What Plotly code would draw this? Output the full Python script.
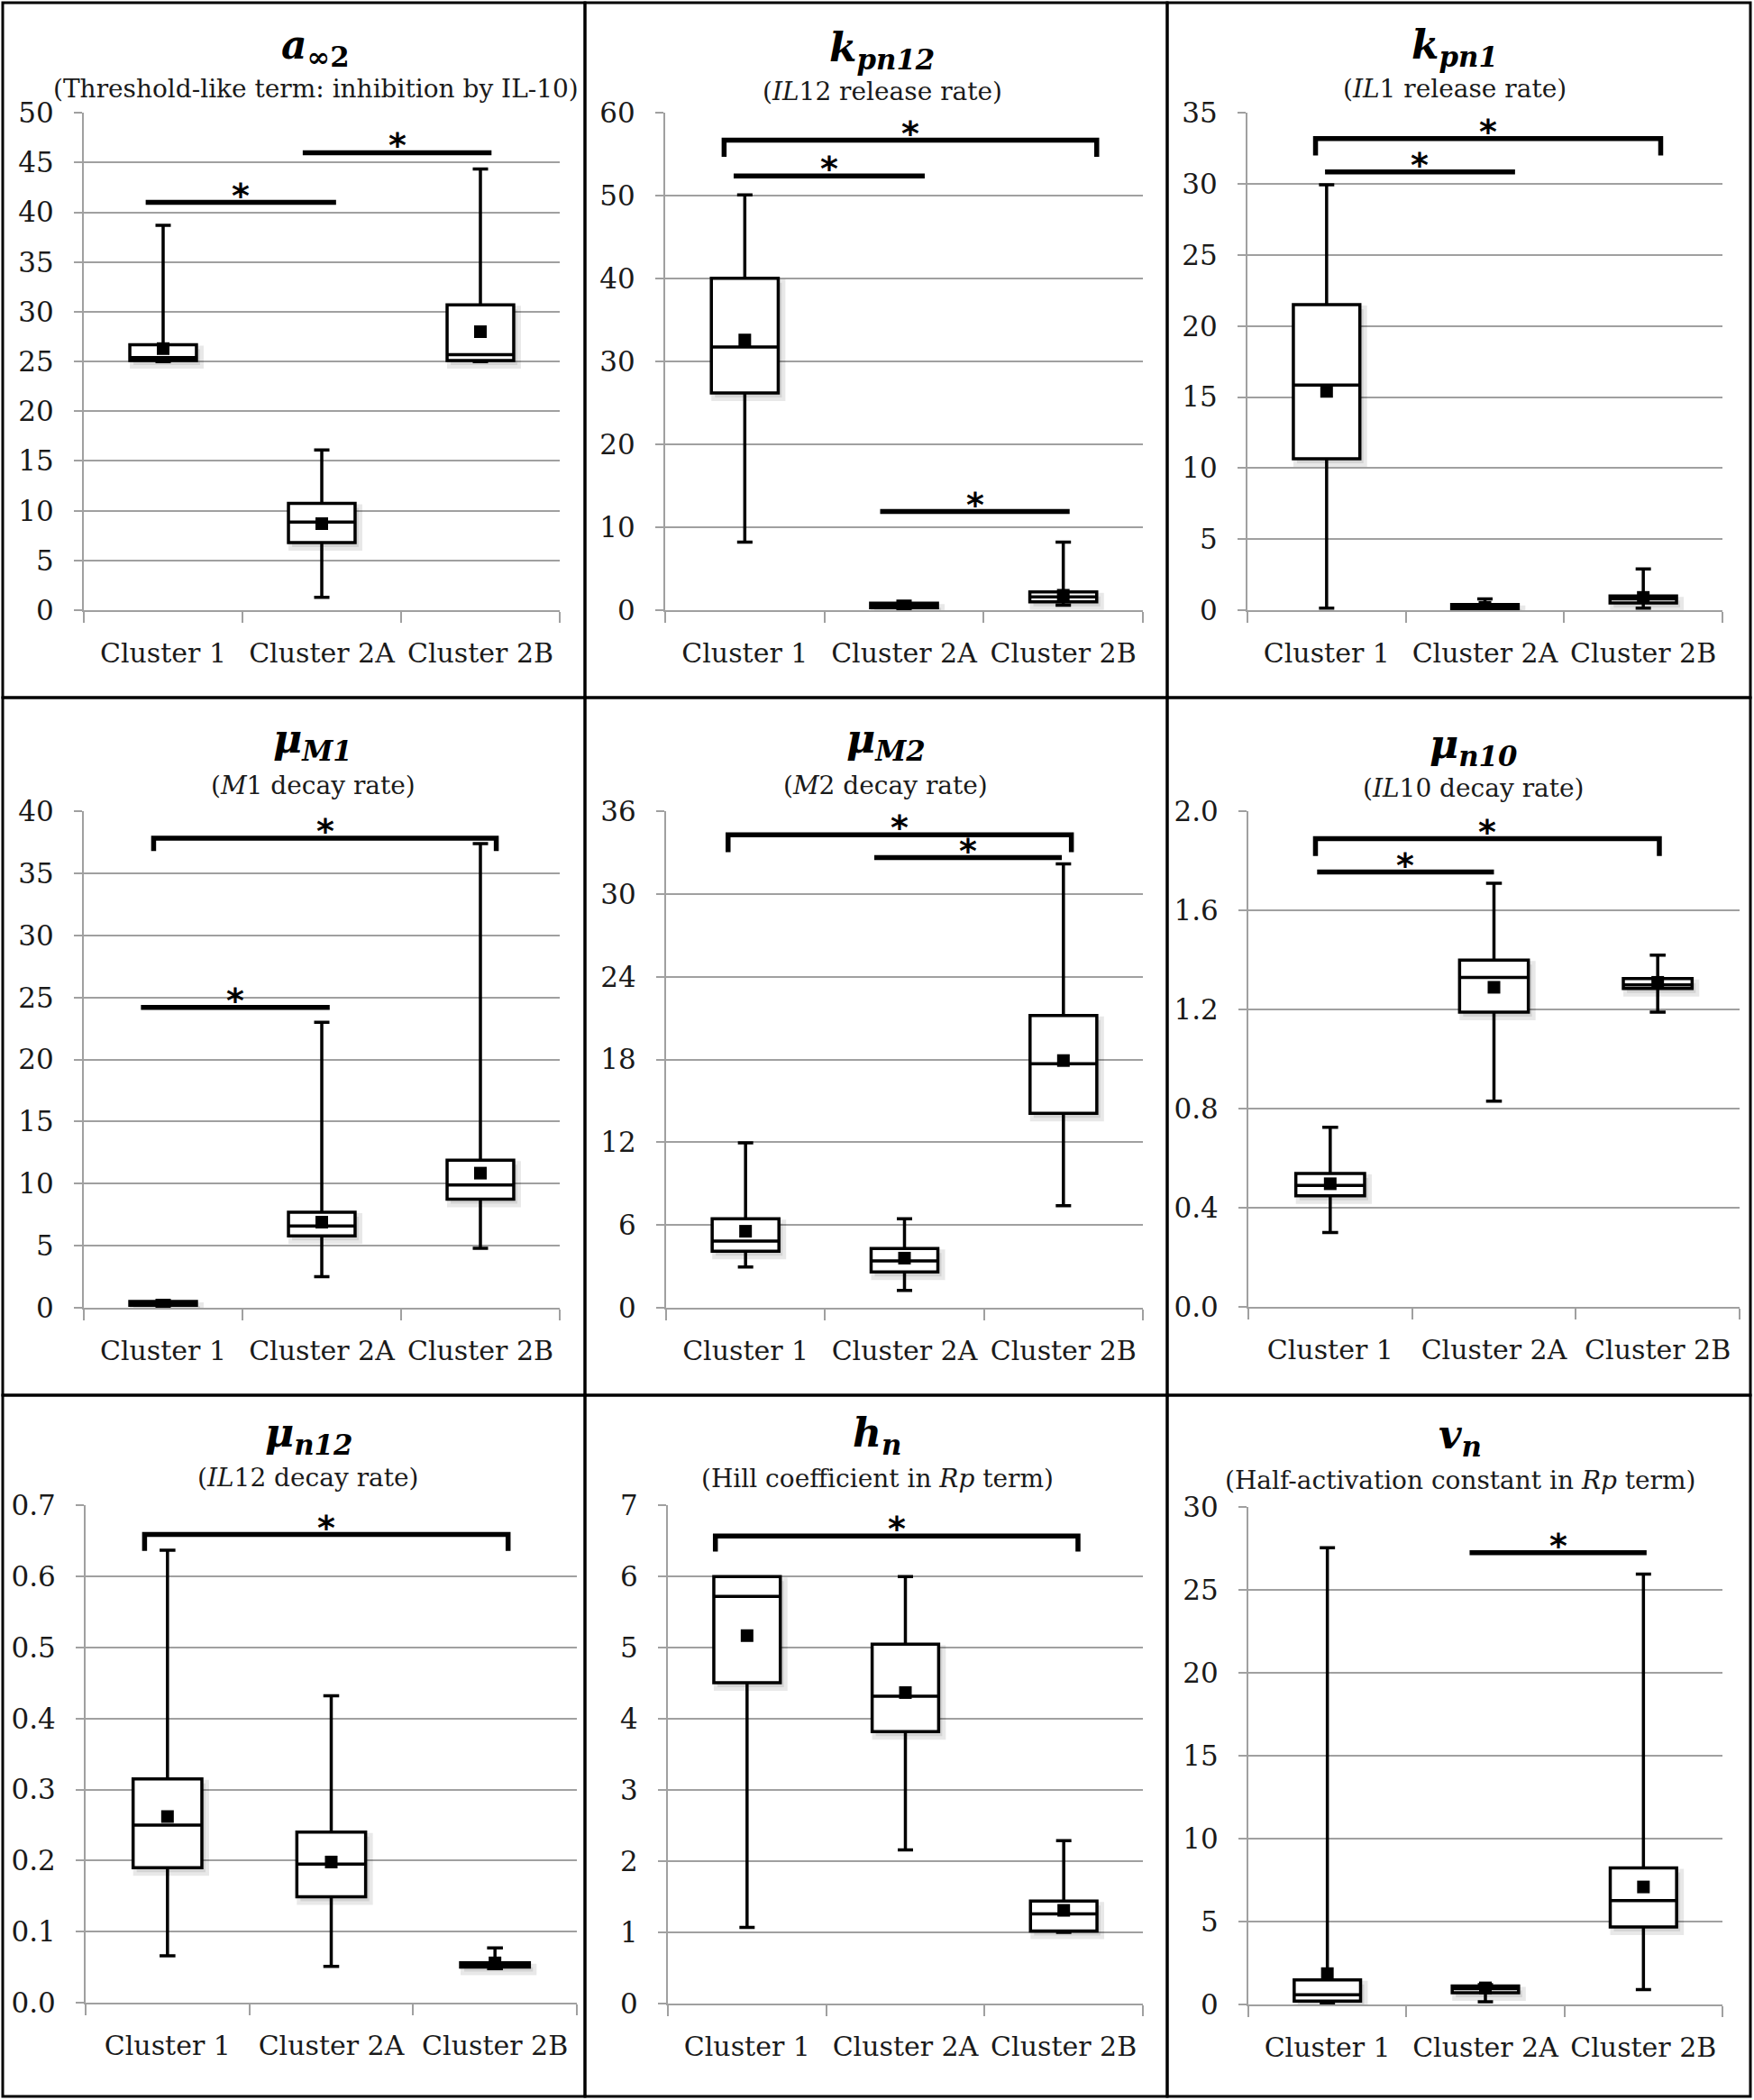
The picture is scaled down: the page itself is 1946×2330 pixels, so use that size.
"""
Box plots of fitted parameters per cluster (3 x 3 panel grid).
"""

import plotly.graph_objects as go

# ==========================================================
# Data
# ==========================================================

CLUSTERS = ["Cluster 1", "Cluster 2A", "Cluster 2B"]
POS = [0, 1, 2]

TITLES = [
    "<b><i>a</i><sub>∞2</sub></b>",
    "<b><i>k<sub>pn12</sub></i></b>",
    "<b><i>k<sub>pn1</sub></i></b>",
    "<b><i>μ<sub>M1</sub></i></b>",
    "<b><i>μ<sub>M2</sub></i></b>",
    "<b><i>μ<sub>n10</sub></i></b>",
    "<b><i>μ<sub>n12</sub></i></b>",
    "<b><i>h<sub>n</sub></i></b>",
    "<b><i>v<sub>n</sub></i></b>",
]

SUBTITLES = [
    "(Threshold-like term: inhibition by IL-10)",
    "(<i>IL</i>12 release rate)",
    "(<i>IL</i>1 release rate)",
    "(<i>M</i>1 decay rate)",
    "(<i>M</i>2 decay rate)",
    "(<i>IL</i>10 decay rate)",
    "(<i>IL</i>12 decay rate)",
    "(Hill coefficient in <i>Rp</i> term)",
    "(Half-activation constant in <i>Rp</i> term)",
]

Y_MAX = [50, 60, 35, 40, 36, 2.0, 0.7, 7, 30]
Y_DTICK = [5, 10, 5, 5, 6, 0.4, 0.1, 1, 5]
Y_FORMAT = ["", "", "", "", "", ".1f", ".1f", "", ""]

LOWER = [
    [25.0, 1.3, 25.0],
    [8.2, 0.05, 0.6],
    [0.15, 0.05, 0.15],
    [0.05, 2.5, 4.8],
    [2.95, 1.26, 7.4],
    [0.30, 0.83, 1.19],
    [0.066, 0.051, 0.048],
    [1.07, 2.16, 1.0],
    [0.1, 0.16, 0.9],
]

Q1 = [
    [25.1, 6.8, 25.1],
    [26.2, 0.3, 1.0],
    [10.65, 0.1, 0.5],
    [0.2, 5.8, 8.75],
    [4.1, 2.6, 14.1],
    [0.448, 1.19, 1.285],
    [0.19, 0.149, 0.050],
    [4.51, 3.82, 1.02],
    [0.2, 0.71, 4.68],
]

MEDIAN = [
    [25.4, 8.85, 25.7],
    [31.75, 0.55, 1.6],
    [15.85, 0.3, 0.8],
    [0.35, 6.6, 9.9],
    [4.83, 3.4, 17.7],
    [0.49, 1.33, 1.30],
    [0.25, 0.195, 0.053],
    [5.72, 4.32, 1.26],
    [0.58, 0.95, 6.27],
]

Q3 = [
    [26.7, 10.75, 30.7],
    [40.05, 0.85, 2.2],
    [21.5, 0.4, 1.0],
    [0.5, 7.7, 11.9],
    [6.45, 4.3, 21.2],
    [0.538, 1.40, 1.325],
    [0.315, 0.24, 0.056],
    [6.0, 5.05, 1.44],
    [1.48, 1.12, 8.24],
]

UPPER = [
    [38.7, 16.1, 44.35],
    [50.1, 1.1, 8.2],
    [29.95, 0.8, 2.9],
    [0.6, 23.0, 37.4],
    [11.96, 6.45, 32.2],
    [0.725, 1.71, 1.42],
    [0.637, 0.432, 0.077],
    [6.0, 6.0, 2.29],
    [27.55, 1.2, 25.97],
]

MEAN = [
    [26.3, 8.7, 28.0],
    [32.6, 0.45, 1.8],
    [15.4, 0.2, 0.9],
    [0.1, 6.9, 10.85],
    [5.55, 3.6, 17.93],
    [0.497, 1.29, 1.31],
    [0.262, 0.198, 0.056],
    [5.17, 4.37, 1.31],
    [1.86, 1.0, 7.09],
]

# significance bars: (x start, x end, height, bracket end height or None)
SIG_BARS = [
    [(-0.11, 1.09, 41.0, None), (0.88, 2.07, 46.0, None)],
    [(-0.13, 2.21, 56.7, 54.7), (-0.07, 1.13, 52.4, None), (0.85, 2.04, 11.9, None)],
    [(-0.07, 2.11, 33.2, 32.0), (-0.01, 1.19, 30.85, None)],
    [(-0.06, 2.10, 37.85, 36.8), (-0.14, 1.05, 24.2, None)],
    [(-0.11, 2.05, 34.3, 33.05), (0.81, 1.99, 32.65, None)],
    [(-0.09, 2.01, 1.89, 1.82), (-0.08, 1.0, 1.755, None)],
    [(-0.14, 2.08, 0.659, 0.636)],
    [(-0.2, 2.09, 6.57, 6.35)],
    [(0.9, 2.02, 27.25, None)],
]

# ==========================================================
# Layout geometry (pixels)
# ==========================================================

W, H = 1946, 2330

# plot areas: x0, x1, y_top, y_bottom
PLOT_BOX = [
    (93, 621, 125, 677),
    (738, 1268, 125, 677),
    (1384, 1911, 125, 677),
    (93, 621, 900, 1451),
    (739, 1268, 900, 1451),
    (1385, 1930, 900, 1450),
    (95, 640, 1670, 2222),
    (741, 1268, 1670, 2223),
    (1385, 1911, 1672, 2224),
]

# title centre x, title y, subtitle y
TITLE_POS = [
    (350, 52, 98),
    (979, 55, 101),
    (1614, 52, 98),
    (347, 822, 871),
    (983, 822, 871),
    (1635, 828, 874),
    (342, 1592, 1639),
    (973, 1592, 1640),
    (1620, 1594, 1642),
]

COL_EDGES = [3, 649, 1295, 1942]
ROW_EDGES = [3, 774, 1548, 2326]

GRID = "#a0a0a0"
FONT = "DejaVu Serif"
SHADOW = "rgba(0,0,0,0.09)"
SHADOW_PX = (4, 5)

# ==========================================================
# Figure
# ==========================================================

fig = go.Figure()

layout = dict(
    width=W,
    height=H,
    margin=dict(l=0, r=0, t=0, b=0, autoexpand=False),
    paper_bgcolor="white",
    plot_bgcolor="white",
    showlegend=False,
    boxmode="overlay",
    font=dict(family=FONT, color="#1a1a1a"),
    annotations=[],
    shapes=[],
)

for i in range(9):

    sfx = "" if i == 0 else str(i + 1)
    xa, ya = "x" + sfx, "y" + sfx
    x0, x1, yt, yb = PLOT_BOX[i]

    layout["xaxis" + sfx] = dict(
        domain=[x0 / W, x1 / W],
        anchor=ya,
        automargin=False,
        range=[-0.5, 2.5],
        tickmode="array",
        tickvals=POS,
        ticktext=CLUSTERS,
        ticks="",
        showgrid=False,
        zeroline=False,
        showline=True,
        linecolor=GRID,
        linewidth=2,
        tickfont=dict(size=30),
        ticklabelstandoff=20,
        minor=dict(
            tickmode="array",
            tickvals=[-0.5, 0.5, 1.5, 2.5],
            ticks="outside",
            ticklen=12,
            tickwidth=2,
            tickcolor=GRID,
            showgrid=False,
        ),
        fixedrange=True,
    )

    layout["yaxis" + sfx] = dict(
        domain=[1 - yb / H, 1 - yt / H],
        anchor=xa,
        automargin=False,
        range=[0, Y_MAX[i] * 1.0005],
        tick0=0,
        dtick=Y_DTICK[i],
        tickformat=Y_FORMAT[i],
        showgrid=True,
        gridcolor=GRID,
        gridwidth=2,
        zeroline=False,
        showline=True,
        linecolor=GRID,
        linewidth=2,
        ticks="outside",
        ticklen=9,
        tickwidth=2,
        tickcolor=GRID,
        tickfont=dict(size=31),
        ticklabelstandoff=16,
        fixedrange=True,
    )

    # soft drop shadow behind each box (offset by a few pixels)
    dx = SHADOW_PX[0] * 3 / (x1 - x0)
    dy = SHADOW_PX[1] * Y_MAX[i] / (yb - yt)

    fig.add_trace(
        go.Box(
            x=[p + dx for p in POS],
            q1=[v - dy for v in Q1[i]],
            median=[v - dy for v in MEDIAN[i]],
            q3=[v - dy for v in Q3[i]],
            lowerfence=[v - dy for v in Q1[i]],
            upperfence=[v - dy for v in Q3[i]],
            width=0.42,
            whiskerwidth=0,
            fillcolor=SHADOW,
            line=dict(color=SHADOW, width=8),
            boxpoints=False,
            hoverinfo="skip",
            xaxis=xa,
            yaxis=ya,
        )
    )

    fig.add_trace(
        go.Box(
            x=POS,
            q1=Q1[i],
            median=MEDIAN[i],
            q3=Q3[i],
            lowerfence=LOWER[i],
            upperfence=UPPER[i],
            width=0.42,
            whiskerwidth=0.23,
            fillcolor="white",
            line=dict(color="black", width=3.5),
            boxpoints=False,
            hoverinfo="skip",
            xaxis=xa,
            yaxis=ya,
        )
    )

    fig.add_trace(
        go.Scatter(
            x=POS,
            y=MEAN[i],
            mode="markers",
            marker=dict(symbol="square", size=14, color="black"),
            hoverinfo="skip",
            xaxis=xa,
            yaxis=ya,
        )
    )

    for bx0, bx1, by, bend in SIG_BARS[i]:

        if bend is None:
            xs, ys = [bx0, bx1], [by, by]
        else:
            xs, ys = [bx0, bx0, bx1, bx1], [bend, by, by, bend]

        fig.add_trace(
            go.Scatter(
                x=xs,
                y=ys,
                mode="lines",
                line=dict(color="black", width=5.5),
                hoverinfo="skip",
                xaxis=xa,
                yaxis=ya,
            )
        )

        layout["annotations"].append(
            dict(
                x=(bx0 + bx1) / 2,
                y=by,
                xref=xa,
                yref=ya,
                text="<b>*</b>",
                showarrow=False,
                yanchor="middle",
                yshift=8,
                font=dict(family="DejaVu Sans", size=38, color="black"),
            )
        )

    tx, ty, sy = TITLE_POS[i]

    layout["annotations"].append(
        dict(
            x=tx / W, y=1 - ty / H, xref="paper", yref="paper",
            text=TITLES[i], showarrow=False,
            xanchor="center", yanchor="middle",
            font=dict(size=44, color="black"),
        )
    )

    layout["annotations"].append(
        dict(
            x=tx / W, y=1 - sy / H, xref="paper", yref="paper",
            text=SUBTITLES[i], showarrow=False,
            xanchor="center", yanchor="middle",
            font=dict(size=28),
        )
    )

# panel frames
for r in range(3):
    for c in range(3):
        layout["shapes"].append(
            dict(
                type="rect", xref="paper", yref="paper",
                x0=COL_EDGES[c] / W, x1=COL_EDGES[c + 1] / W,
                y0=1 - ROW_EDGES[r + 1] / H, y1=1 - ROW_EDGES[r] / H,
                line=dict(color="black", width=3),
                fillcolor="rgba(0,0,0,0)",
            )
        )

fig.update_layout(**layout)

# pin the graph to the page corner so the page is exactly the figure size
PIN = (
    "var gd = document.getElementById('{plot_id}');"
    "gd.style.position = 'absolute'; gd.style.left = '0px'; gd.style.top = '0px';"
    "document.body.style.margin = '0px';"
)

fig.write_html(
    "out.html",
    config={"displayModeBar": False},
    post_script=PIN,
)
